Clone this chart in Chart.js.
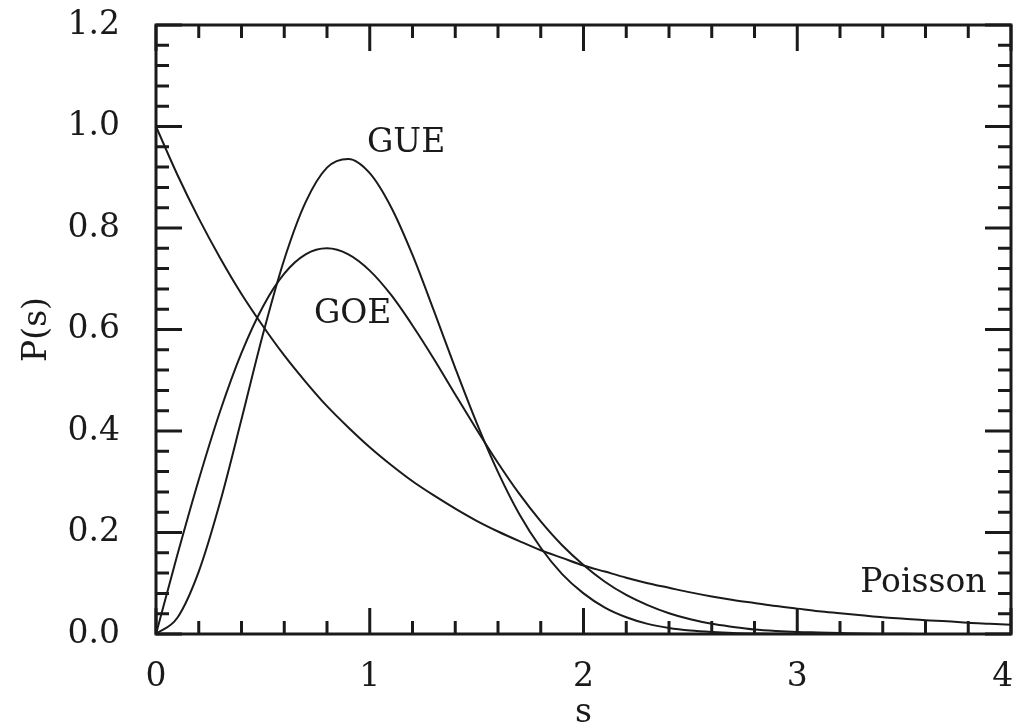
<!DOCTYPE html>
<html lang="en">
<head>
<meta charset="UTF-8">
<title>P(s)</title>
<script src="https://cdn.jsdelivr.net/npm/chart.js"></script>
<style>
	body { margin: 0; background: #fff; }
	#wrap { width: 1015px; height: 722px; }
</style>
</head>
<body>
<div id="wrap"><canvas id="grafico"></canvas></div>
<script>
	// spacing s, read every 0.1
	var sValores = [0, 0.1, 0.2, 0.3, 0.4, 0.5, 0.6, 0.7, 0.8, 0.9, 1.0, 1.1, 1.2, 1.3, 1.4, 1.5, 1.6, 1.7, 1.8, 1.9, 2.0,
		2.1, 2.2, 2.3, 2.4, 2.5, 2.6, 2.7, 2.8, 2.9, 3.0, 3.1, 3.2, 3.3, 3.4, 3.5, 3.6, 3.7, 3.8, 3.9, 4.0];
	var goe = [0, 0.156, 0.304, 0.439, 0.554, 0.645, 0.710, 0.748, 0.760, 0.748, 0.716, 0.668, 0.608, 0.542, 0.472, 0.403, 0.337, 0.276, 0.222, 0.175, 0.136,
		0.103, 0.077, 0.057, 0.041, 0.029, 0.020, 0.014, 0.009, 0.006, 0.004, 0.003, 0.002, 0.001, 0.0006, 0.0003, 0.0002, 0.0001, 0, 0, 0];
	var gue = [0, 0.032, 0.123, 0.260, 0.423, 0.590, 0.738, 0.851, 0.919, 0.936, 0.908, 0.841, 0.747, 0.637, 0.524, 0.416, 0.319, 0.236, 0.170, 0.118, 0.080,
		0.052, 0.033, 0.020, 0.012, 0.007, 0.004, 0.002, 0.001, 0.0006, 0.0003, 0.0001, 0, 0, 0, 0, 0, 0, 0, 0, 0];
	var poisson = [1, 0.905, 0.819, 0.741, 0.670, 0.607, 0.549, 0.497, 0.449, 0.407, 0.368, 0.333, 0.301, 0.273, 0.247, 0.223, 0.202, 0.183, 0.165, 0.150, 0.135,
		0.123, 0.111, 0.100, 0.091, 0.082, 0.074, 0.067, 0.061, 0.055, 0.050, 0.045, 0.041, 0.037, 0.033, 0.030, 0.027, 0.025, 0.022, 0.020, 0.018];

	var xMajor = [0, 1, 2, 3, 4];
	var yMajor = [0, 0.2, 0.4, 0.6, 0.8, 1.0, 1.2];

	// curve labels, in data units
	var rotulos = [
		{ texto: 'GUE', x: 1.17, y: 0.967 },
		{ texto: 'GOE', x: 0.92, y: 0.63 },
		{ texto: 'Poisson', x: 3.59, y: 0.10 }
	];

	var tinta = '#1a1a1a';
	var fonte = 'DejaVu Serif';
	var tam = 33;

	function pares(ys) {
		return sValores.map(function (s, i) { return { x: s, y: ys[i] }; });
	}

	function serie(ys) {
		return {
			data: pares(ys),
			borderColor: tinta,
			borderWidth: 2,
			pointRadius: 0,
			fill: false,
			cubicInterpolationMode: 'monotone'
		};
	}

	// frame + inward ticks on all four sides
	var moldura = {
		id: 'moldura',
		afterDraw: function (chart) {
			var ctx = chart.ctx;
			var a = chart.chartArea;
			var sx = chart.scales.x, sy = chart.scales.y;
			ctx.save();
			ctx.strokeStyle = tinta;
			ctx.lineWidth = 3;
			ctx.lineCap = 'butt';
			ctx.beginPath();
			for (var v = 0; v <= 20; v++) {
				var px = sx.getPixelForValue(v * 0.2);
				var len = (v % 5 === 0) ? 26 : 13;
				ctx.moveTo(px, a.bottom); ctx.lineTo(px, a.bottom - len);
				ctx.moveTo(px, a.top); ctx.lineTo(px, a.top + len);
			}
			for (var w = 0; w <= 30; w++) {
				var py = sy.getPixelForValue(w * 0.04);
				var len2 = (w % 5 === 0) ? 26 : 13;
				ctx.moveTo(a.left, py); ctx.lineTo(a.left + len2, py);
				ctx.moveTo(a.right, py); ctx.lineTo(a.right - len2, py);
			}
			ctx.stroke();
			ctx.strokeRect(a.left, a.top, a.right - a.left, a.bottom - a.top);
			ctx.restore();
		},
		afterDatasetsDraw: function (chart) {
			var ctx = chart.ctx;
			var sx = chart.scales.x, sy = chart.scales.y;
			ctx.save();
			ctx.fillStyle = tinta;
			ctx.font = tam + 'px "' + fonte + '"';
			ctx.textAlign = 'center';
			ctx.textBaseline = 'middle';
			rotulos.forEach(function (r) {
				ctx.fillText(r.texto, sx.getPixelForValue(r.x), sy.getPixelForValue(r.y));
			});
			ctx.restore();
		}
	};

	new Chart(document.getElementById('grafico'), {
		type: 'line',
		data: {
			datasets: [serie(goe), serie(gue), serie(poisson)]
		},
		options: {
			responsive: true,
			maintainAspectRatio: false,
			animation: false,
			layout: { padding: { top: 25, right: 4, left: 0, bottom: 0 } },
			plugins: { legend: { display: false }, tooltip: { enabled: false } },
			scales: {
				x: {
					type: 'linear',
					min: 0,
					max: 4,
					afterBuildTicks: function (s) { s.ticks = xMajor.map(function (v) { return { value: v }; }); },
					afterFit: function (s) { s.height = 88; s.paddingLeft = 0; s.paddingRight = 0; },
					grid: { display: false },
					border: { display: false },
					ticks: {
						color: tinta,
						padding: 16,
						maxRotation: 0,
						font: { family: fonte, size: tam },
						// last label sits against the edge, nudge it left a bit
						callback: function (v) { return v === 4 ? '4\u2002' : String(v); }
					},
					title: {
						display: true,
						text: 's',
						color: tinta,
						padding: { top: 0, bottom: -11 },
						font: { family: fonte, size: tam }
					}
				},
				y: {
					type: 'linear',
					min: 0,
					max: 1.2,
					afterBuildTicks: function (s) { s.ticks = yMajor.map(function (v) { return { value: v }; }); },
					afterFit: function (s) { s.width = 156; s.paddingTop = 0; s.paddingBottom = 0; },
					grid: { display: false },
					border: { display: false },
					ticks: {
						color: tinta,
						padding: 28,
						font: { family: fonte, size: tam },
						callback: function (v) { return Number(v).toFixed(1); }
					},
					title: {
						display: true,
						text: 'P(s)',
						color: tinta,
						padding: { top: 18, bottom: 0 },
						font: { family: fonte, size: tam }
					}
				}
			}
		},
		plugins: [moldura]
	});
</script>
</body>
</html>
